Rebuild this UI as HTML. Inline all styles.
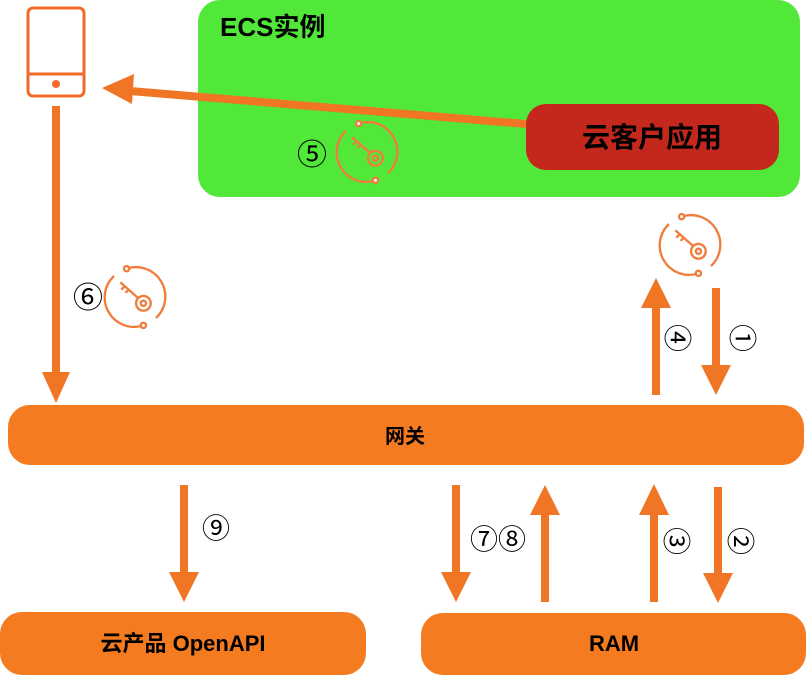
<!DOCTYPE html>
<html><head><meta charset="utf-8"><style>
html,body{margin:0;padding:0;background:#fff;width:808px;height:675px;overflow:hidden}
svg{display:block}
text{font-family:"Liberation Sans","Noto Sans CJK SC",sans-serif}
.n{font-weight:normal}
</style></head><body>
<svg width="808" height="675" viewBox="0 0 808 675" xmlns="http://www.w3.org/2000/svg">
<defs>
<g id="key" fill="none" stroke="#f07d3c" stroke-width="2.2">
  <path d="M-8,-27 A28,28 0 0 1 20,20"/>
  <path d="M8,27 A28,28 0 0 1 -20,-20"/>
  <circle cx="-8" cy="-27" r="2.5" fill="#fff"/>
  <circle cx="8" cy="27" r="2.5" fill="#fff"/>
  <circle cx="8" cy="6" r="7"/>
  <circle cx="8" cy="6" r="2.5"/>
  <path d="M3,1 L-14,-14 M-10,-10 L-13,-7 M-6,-7 L-9,-4"/>
</g>
</defs>
<rect x="198" y="0" width="602" height="197" rx="22" fill="#52e83a"/>
<text x="220" y="36" font-size="26" font-weight="bold" fill="#000">ECS实例</text>
<rect x="526" y="104" width="253" height="66" rx="20" fill="#c4281c"/>
<text x="652" y="147" font-size="28" font-weight="bold" fill="#000" text-anchor="middle">云客户应用</text>
<rect x="28" y="8" width="56" height="88" rx="5" fill="none" stroke="#f26a2a" stroke-width="3"/>
<line x1="28" y1="74" x2="84" y2="74" stroke="#f26a2a" stroke-width="3"/>
<circle cx="56" cy="84" r="4" fill="#f26a2a"/>
<line x1="526" y1="124" x2="130" y2="91" stroke="#f07524" stroke-width="8"/>
<polygon points="102,88 134,74 132,104" fill="#f07524"/>
<text class="n" x="312" y="165" font-size="30" text-anchor="middle" fill="#000">⑤</text>
<use href="#key" transform="translate(367 152) scale(1.05)"/>
<line x1="56" y1="106" x2="56" y2="375" stroke="#f07524" stroke-width="8"/>
<polygon points="42,372 70,372 56,403" fill="#f07524"/>
<text class="n" x="88" y="308" font-size="30" text-anchor="middle" fill="#000">⑥</text>
<use href="#key" transform="translate(135 297) scale(1.05)"/>
<use href="#key" transform="translate(690 245) scale(1.05)"/>
<line x1="656" y1="395" x2="656" y2="305" stroke="#f07524" stroke-width="8"/>
<polygon points="641,308 671,308 656,278" fill="#f07524"/>
<line x1="716" y1="288" x2="716" y2="368" stroke="#f07524" stroke-width="8"/>
<polygon points="701,365 731,365 716,395" fill="#f07524"/>
<text class="n" x="677" y="338" font-size="28" text-anchor="middle" dominant-baseline="central" fill="#000" transform="rotate(90 677 338)">④</text>
<text class="n" x="742" y="338" font-size="28" text-anchor="middle" dominant-baseline="central" fill="#000" transform="rotate(90 742 338)">①</text>
<rect x="8" y="405" width="796" height="60" rx="22" fill="#f47b20"/>
<text x="405" y="443" font-size="20" font-weight="bold" text-anchor="middle" fill="#000">网关</text>
<line x1="184" y1="485" x2="184" y2="575" stroke="#f07524" stroke-width="8"/>
<polygon points="169,572 199,572 184,602" fill="#f07524"/>
<text class="n" x="216" y="538" font-size="28" text-anchor="middle" fill="#000">⑨</text>
<line x1="456" y1="485" x2="456" y2="575" stroke="#f07524" stroke-width="8"/>
<polygon points="441,572 471,572 456,602" fill="#f07524"/>
<line x1="545" y1="602" x2="545" y2="512" stroke="#f07524" stroke-width="8"/>
<polygon points="530,515 560,515 545,485" fill="#f07524"/>
<text class="n" x="498" y="549" font-size="28" text-anchor="middle" fill="#000">⑦⑧</text>
<line x1="654" y1="602" x2="654" y2="512" stroke="#f07524" stroke-width="8"/>
<polygon points="639,515 669,515 654,484" fill="#f07524"/>
<line x1="718" y1="487" x2="718" y2="576" stroke="#f07524" stroke-width="8"/>
<polygon points="703,573 733,573 718,603" fill="#f07524"/>
<text class="n" x="676" y="541" font-size="28" text-anchor="middle" dominant-baseline="central" fill="#000" transform="rotate(90 676 541)">③</text>
<text class="n" x="740" y="541" font-size="28" text-anchor="middle" dominant-baseline="central" fill="#000" transform="rotate(90 740 541)">②</text>
<rect x="0" y="612" width="366" height="63" rx="22" fill="#f47b20"/>
<text x="183" y="651" font-size="22" font-weight="bold" text-anchor="middle" fill="#000">云产品 OpenAPI</text>
<rect x="421" y="613" width="385" height="62" rx="22" fill="#f47b20"/>
<text x="614" y="651" font-size="22" font-weight="bold" text-anchor="middle" fill="#000">RAM</text>
</svg>
</body></html>
